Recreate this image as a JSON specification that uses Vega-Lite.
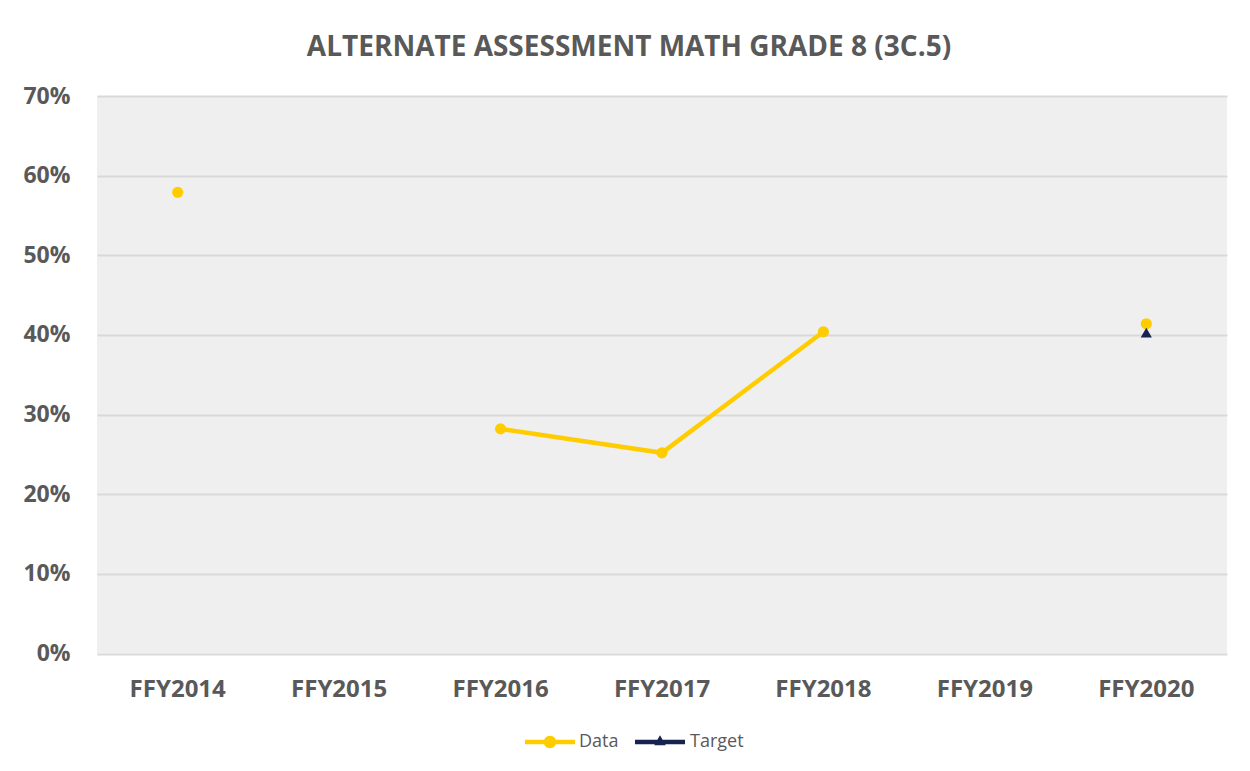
{
  "$schema": "https://vega.github.io/schema/vega-lite/v6.json",
  "width": 1130,
  "height": 557.5,
  "autosize": {"type": "none"},
  "padding": {"left": 97, "top": 96, "right": 23, "bottom": 117.5},
  "background": "#FFFFFF",
  "title": {
    "text": "ALTERNATE ASSESSMENT MATH GRADE 8 (3C.5)",
    "font": "Open Sans",
    "fontSize": 28,
    "fontWeight": "bold",
    "color": "#595959",
    "anchor": "middle",
    "dx": -33,
    "offset": 23
  },
  "data": {
    "values": [
      {"year": "FFY2014", "series": "Data", "value": 0.579},
      {"year": "FFY2015", "series": "Data", "value": null},
      {"year": "FFY2016", "series": "Data", "value": 0.282},
      {"year": "FFY2017", "series": "Data", "value": 0.252},
      {"year": "FFY2018", "series": "Data", "value": 0.404},
      {"year": "FFY2019", "series": "Data", "value": null},
      {"year": "FFY2020", "series": "Data", "value": 0.414},
      {"year": "FFY2020", "series": "Target", "value": 0.403}
    ]
  },
  "encoding": {
    "x": {
      "field": "year",
      "type": "nominal",
      "sort": ["FFY2014", "FFY2015", "FFY2016", "FFY2017", "FFY2018", "FFY2019", "FFY2020"],
      "scale": {"type": "band", "paddingInner": 0, "paddingOuter": 0},
      "axis": {
        "title": null,
        "labelAngle": 0,
        "domain": false,
        "ticks": false,
        "grid": false,
        "labelPadding": 24,
        "labelFont": "Open Sans",
        "labelFontSize": 24,
        "labelFontWeight": "bold",
        "labelColor": "#595959"
      }
    },
    "y": {
      "field": "value",
      "type": "quantitative",
      "scale": {"domain": [0, 0.7], "nice": false},
      "axis": {
        "title": null,
        "values": [0, 0.1, 0.2, 0.3, 0.4, 0.5, 0.6, 0.7],
        "format": ".0%",
        "domain": false,
        "ticks": false,
        "grid": true,
        "gridColor": "#D9D9D9",
        "gridWidth": 2,
        "labelPadding": 27,
        "labelFont": "Open Sans",
        "labelFontSize": 23,
        "labelFontWeight": "bold",
        "labelColor": "#595959"
      }
    }
  },
  "layer": [
    {
      "transform": [{"filter": "datum.series === 'Data'"}],
      "mark": {"type": "line", "color": "#FFCC00", "strokeWidth": 4.5, "invalid": "break-paths-show-domains"},
      "encoding": {}
    },
    {
      "transform": [{"filter": "datum.series === 'Data' && datum.value != null"}],
      "mark": {"type": "point", "shape": "circle", "filled": true, "size": 125, "opacity": 1},
      "encoding": {
        "color": {
          "field": "series",
          "type": "nominal",
          "scale": {"domain": ["Data"], "range": ["#FFCC00"]},
          "legend": {
            "title": null,
            "orient": "none",
            "legendX": 427,
            "legendY": 620,
            "symbolType": "M-1,-0.09H1V0.09H-1Z M0.25,0A0.25,0.25 0 1,1 -0.25,0A0.25,0.25 0 1,1 0.25,0Z",
            "symbolSize": 2500,
            "symbolOpacity": 1,
            "labelFont": "Open Sans",
            "labelFontSize": 18,
            "labelColor": "#595959",
            "labelOffset": 3
          }
        }
      }
    },
    {
      "transform": [{"filter": "datum.series === 'Target'"}],
      "mark": {"type": "point", "shape": "triangle-up", "filled": true, "size": 125, "opacity": 1},
      "encoding": {
        "color": {
          "field": "series",
          "type": "nominal",
          "scale": {"domain": ["Target"], "range": ["#172250"]},
          "legend": {
            "title": null,
            "orient": "none",
            "legendX": 537,
            "legendY": 620,
            "symbolType": "M-1,-0.09H1V0.09H-1Z M0,-0.27L0.23,0.13H-0.23Z",
            "symbolSize": 2500,
            "symbolOpacity": 1,
            "labelFont": "Open Sans",
            "labelFontSize": 18,
            "labelColor": "#595959",
            "labelOffset": 4
          }
        }
      }
    }
  ],
  "resolve": {"scale": {"color": "independent"}},
  "config": {
    "view": {"fill": "#EFEFEF", "stroke": null}
  }
}
